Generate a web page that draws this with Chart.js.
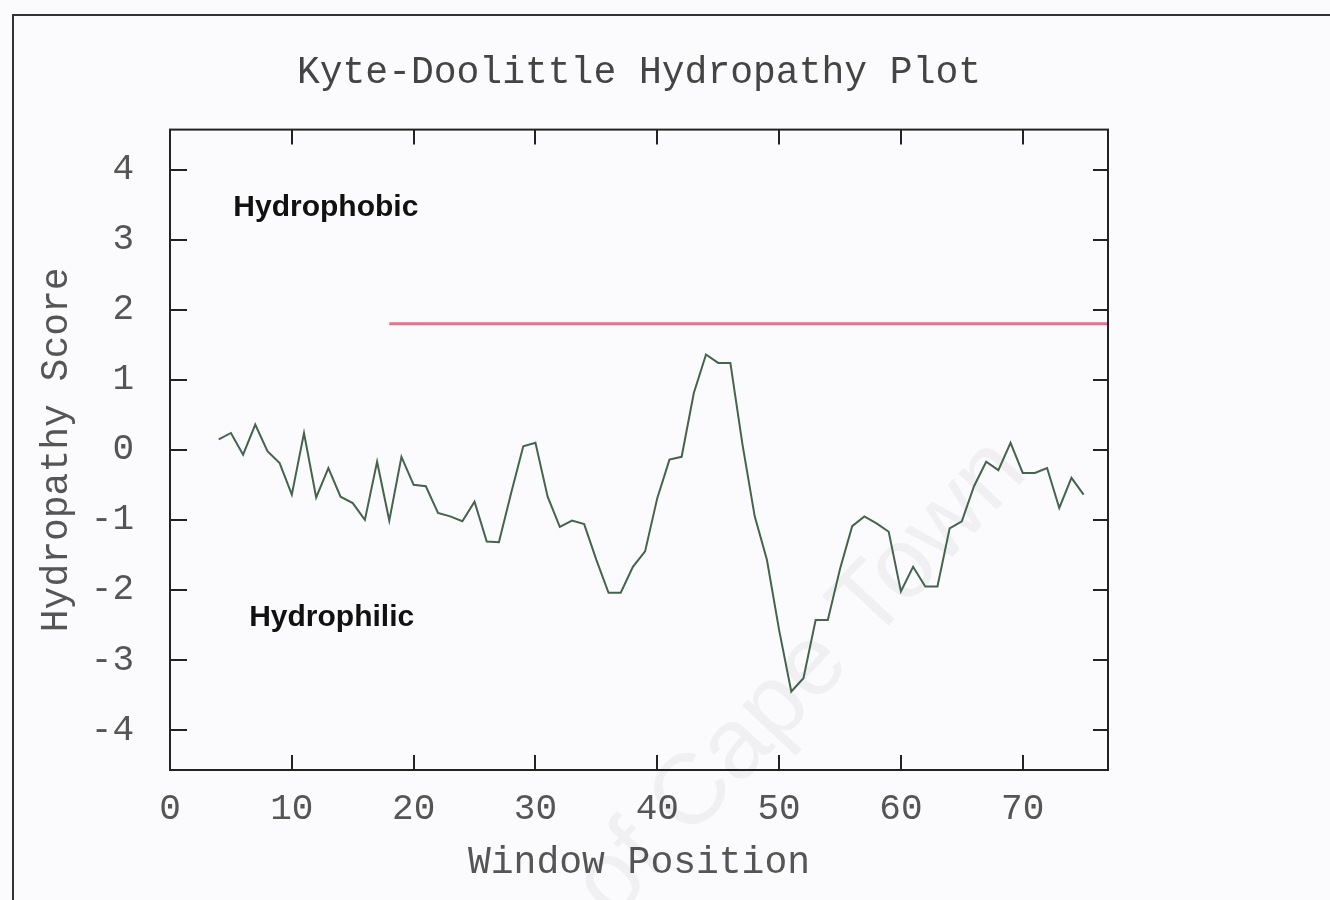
<!DOCTYPE html>
<html>
<head>
<meta charset="utf-8">
<title>Kyte-Doolittle Hydropathy Plot</title>
<script src="https://cdn.jsdelivr.net/npm/chart.js@4.4.0/dist/chart.umd.min.js"></script>
<style>
  html, body { margin: 0; padding: 0; background: #fbfbfd; }
  #wrap { position: relative; width: 1330px; height: 900px; overflow: hidden; }
  #wrap canvas { position: absolute; left: 0; top: 0; }
  #frame {
    position: absolute; left: 12px; top: 14px; right: 0; bottom: 0;
    border-top: 2px solid #333; border-left: 2px solid #333;
    pointer-events: none;
  }
</style>
</head>
<body>
<div id="wrap">
  <canvas id="hydropathy" width="1330" height="900"></canvas>
  <div id="frame"></div>
</div>
<script>
window.onload = init;

// posições da janela (eixo x) e pontuação de hidropatia
const windowPositions = [
  4, 5, 6, 7, 8, 9, 10, 11, 12, 13,
  14, 15, 16, 17, 18, 19, 20, 21, 22, 23,
  24, 25, 26, 27, 28, 29, 30, 31, 32, 33,
  34, 35, 36, 37, 38, 39, 40, 41, 42, 43,
  44, 45, 46, 47, 48, 49, 50, 51, 52, 53,
  54, 55, 56, 57, 58, 59, 60, 61, 62, 63,
  64, 65, 66, 67, 68, 69, 70, 71, 72, 73,
  74, 75
];
const hydropathyScores = [
  0.15, 0.24, -0.07, 0.36, -0.02, -0.19, -0.64, 0.24, -0.68, -0.26,
  -0.67, -0.76, -1.00, -0.17, -1.01, -0.10, -0.50, -0.52, -0.90, -0.95,
  -1.02, -0.74, -1.31, -1.32, -0.62, 0.05, 0.10, -0.67, -1.10, -1.01,
  -1.06, -1.57, -2.04, -2.04, -1.67, -1.45, -0.69, -0.14, -0.10, 0.81,
  1.36, 1.24, 1.24, 0.07, -0.95, -1.57, -2.57, -3.45, -3.26, -2.43,
  -2.43, -1.70, -1.09, -0.95, -1.05, -1.17, -2.02, -1.67, -1.95, -1.95,
  -1.12, -1.02, -0.52, -0.17, -0.29, 0.10, -0.33, -0.33, -0.26, -0.83,
  -0.40, -0.64
];

// linha de corte (limiar hidrofóbico)
const thresholdPositions = [18, 77];
const thresholdScores = [1.8, 1.8];

const xTickValues = [0, 10, 20, 30, 40, 50, 60, 70];
const xTickLabels = ["0", "10", "20", "30", "40", "50", "60", "70"];
const yTickValues = [4, 3, 2, 1, 0, -1, -2, -3, -4];
const yTickLabels = ["4", "3", "2", "1", "0", "-1", "-2", "-3", "-4"];

const xRange = [0, 77];
const yRange = [-4.57, 4.57];

const regionLabels = ["Hydrophobic", "Hydrophilic"];

const charts = [];

const monoFont = "'Liberation Mono', 'DejaVu Sans Mono', monospace";

function init(e) {
  generateHydropathyChart();
}

// moldura do gráfico com as marcas dos ticks voltadas para dentro
const frameTicksPlugin = {
  id: "frameTicks",
  afterDatasetsDraw(chart) {
    const { ctx, chartArea: a } = chart;
    const x = chart.scales.x;
    const y = chart.scales.y;
    ctx.save();
    ctx.strokeStyle = "#222";
    ctx.lineWidth = 2;
    ctx.strokeRect(a.left, a.top, a.right - a.left, a.bottom - a.top);
    ctx.beginPath();
    y.ticks.forEach((t) => {
      const py = Math.round(y.getPixelForValue(t.value));
      ctx.moveTo(a.left, py);
      ctx.lineTo(a.left + 17, py);
      ctx.moveTo(a.right, py);
      ctx.lineTo(a.right - 15, py);
    });
    x.ticks.forEach((t) => {
      if (t.value === xRange[0]) return;
      const px = Math.round(x.getPixelForValue(t.value));
      ctx.moveTo(px, a.bottom);
      ctx.lineTo(px, a.bottom - 15);
      ctx.moveTo(px, a.top);
      ctx.lineTo(px, a.top + 15);
    });
    ctx.stroke();
    ctx.restore();
  },
};

// rótulos "Hydrophobic" / "Hydrophilic" posicionados em coordenadas de dados
const regionLabelsPlugin = {
  id: "regionLabels",
  afterDatasetsDraw(chart) {
    const { ctx } = chart;
    const x = chart.scales.x;
    const y = chart.scales.y;
    const anchors = [
      { x: 5.2, y: 3.33 },
      { x: 6.5, y: -2.52 },
    ];
    ctx.save();
    ctx.fillStyle = "#111";
    ctx.font = "bold 30px 'Liberation Sans', Arial, sans-serif";
    ctx.textAlign = "left";
    ctx.textBaseline = "alphabetic";
    regionLabels.forEach((label, i) => {
      ctx.fillText(label, x.getPixelForValue(anchors[i].x), y.getPixelForValue(anchors[i].y));
    });
    ctx.restore();
  },
};

// marca d'água clara do documento digitalizado
const watermarkPlugin = {
  id: "watermark",
  beforeDatasetsDraw(chart) {
    const { ctx } = chart;
    ctx.save();
    ctx.translate(1030, 474);
    ctx.rotate(-Math.PI * 47 / 180);
    ctx.fillStyle = "rgba(0, 0, 0, 0.045)";
    ctx.font = "100px 'Liberation Sans', Arial, sans-serif";
    ctx.textAlign = "right";
    ctx.textBaseline = "alphabetic";
    ctx.fillText("University of Cape Town", 0, 0);
    ctx.restore();
  },
};

function generateHydropathyChart() {
  const scorePoints = windowPositions.map((pos, i) => ({ x: pos, y: hydropathyScores[i] }));
  const thresholdPoints = thresholdPositions.map((pos, i) => ({ x: pos, y: thresholdScores[i] }));

  const datasets = [
    {
      label: "Hydropathy Score",
      data: scorePoints,
      borderColor: "#45644c",
      borderWidth: 2,
      pointRadius: 0,
      tension: 0,
    },
    {
      label: "Threshold",
      data: thresholdPoints,
      borderColor: "#e8728c",
      borderWidth: 3,
      pointRadius: 0,
      tension: 0,
    },
  ];

  const config = {
    responsive: false,
    animation: false,
    layout: {
      padding: { left: 0, right: 222, top: 0, bottom: 0 },
    },
    scales: {
      x: {
        type: "linear",
        min: xRange[0],
        max: xRange[1],
        afterBuildTicks: (scale) => {
          scale.ticks = xTickValues.map((v) => ({ value: v }));
        },
        afterFit: (scale) => {
          scale.height = 130;
        },
        grid: { display: false },
        border: { display: false },
        ticks: {
          color: "#555",
          font: { family: monoFont, size: 36 },
          padding: 10,
          maxRotation: 0,
          autoSkip: false,
          callback: function (value) {
            const idx = xTickValues.indexOf(value);
            return idx >= 0 ? xTickLabels[idx] : "";
          },
        },
        title: {
          display: true,
          text: "Window Position",
          color: "#555",
          font: { family: monoFont, size: 38 },
          padding: { top: 0, bottom: 14 },
        },
      },
      y: {
        type: "linear",
        min: yRange[0],
        max: yRange[1],
        afterBuildTicks: (scale) => {
          scale.ticks = yTickValues.map((v) => ({ value: v }));
        },
        afterFit: (scale) => {
          scale.width = 170;
        },
        grid: { display: false },
        border: { display: false },
        ticks: {
          color: "#555",
          font: { family: monoFont, size: 36 },
          padding: 28,
          autoSkip: false,
          callback: function (value) {
            const idx = yTickValues.indexOf(value);
            return idx >= 0 ? yTickLabels[idx] : "";
          },
        },
        title: {
          display: true,
          text: "Hydropathy Score",
          color: "#555",
          font: { family: monoFont, size: 38 },
          padding: { top: 34, bottom: 0 },
        },
      },
    },
    plugins: {
      legend: { display: false },
      tooltip: { enabled: false },
      title: {
        display: true,
        fullSize: false,
        text: "Kyte-Doolittle Hydropathy Plot",
        color: "#444",
        font: { family: monoFont, size: 38, weight: "normal" },
        padding: { top: 50, bottom: 34 },
      },
    },
  };

  const ctx = document.getElementById("hydropathy").getContext("2d");
  const hydropathyChart = new Chart(ctx, {
    type: "line",
    plugins: [watermarkPlugin, frameTicksPlugin, regionLabelsPlugin],
    data: { datasets },
    options: config,
  });
  charts.push(hydropathyChart);
}
</script>
</body>
</html>
